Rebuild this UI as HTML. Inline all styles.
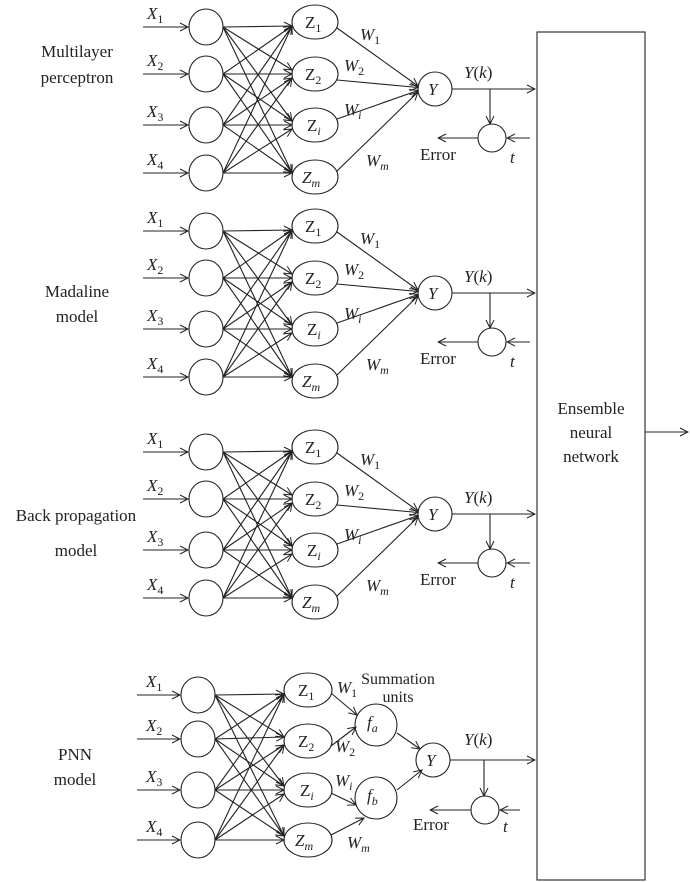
<!DOCTYPE html>
<html><head><meta charset="utf-8"><style>
html,body{margin:0;padding:0;background:#fff;}
svg{display:block;font-family:"Liberation Serif",serif;}
.t{font-size:17px;fill:#222;}
.i{font-style:italic;}
</style></head><body>
<svg id="s" width="690" height="882" viewBox="0 0 690 882" xmlns="http://www.w3.org/2000/svg">
<defs><marker id="a" markerWidth="10" markerHeight="10" refX="9" refY="5" orient="auto" markerUnits="userSpaceOnUse"><path d="M1,1 L9,5 L1,9" fill="none" stroke="#222" stroke-width="1"/></marker></defs>
<g id="g" stroke="#222" stroke-width="1.1" fill="none"></g>
<rect x="537" y="32" width="108" height="848" fill="none" stroke="#222" stroke-width="1.1"/>
<line x1="645" y1="432" x2="688" y2="432" stroke="#222" stroke-width="1.1" marker-end="url(#a)"/>
<g class="t" text-anchor="middle">
<text x="591" y="414">Ensemble</text><text x="591" y="438">neural</text><text x="591" y="462">network</text>
<text x="77" y="57">Multilayer</text><text x="77" y="83">perceptron</text>
<text x="77" y="297">Madaline</text><text x="77" y="322">model</text>
<text x="76" y="521">Back propagation</text><text x="76" y="556">model</text>
<text x="75" y="760">PNN</text><text x="75" y="785">model</text>
<text x="398" y="684" font-size="16">Summation</text><text x="398" y="702" font-size="16">units</text>
</g>
<g id="txt" class="t"></g>
</svg>
<script>
var g=document.getElementById('g'),T=document.getElementById('txt'),NS='http://www.w3.org/2000/svg';
function el(n,a,p){var e=document.createElementNS(NS,n);for(var k in a)e.setAttribute(k,a[k]);(p||g).appendChild(e);return e;}
function ln(x1,y1,x2,y2,ar){var e=el('line',{x1:x1,y1:y1,x2:x2,y2:y2});if(ar)e.setAttribute('marker-end','url(#a)');}
function ce(x,y,rx,ry){el('ellipse',{cx:x,cy:y,rx:rx,ry:ry});}
function tx(x,y,h){var e=el('text',{x:x,y:y},T);e.innerHTML=h;}
var S='font-size="12"';
function block(o){
 var iy=[27,74,125,173].map(v=>v+o), zy=[22,74,125,177].map(v=>v+o), Yy=89+o;
 var ix=206,zx=315,Yx=435;
 iy.forEach((y,k)=>{ce(ix,y,17,18);ln(143,y,188,y,1);});
 zy.forEach(y=>ce(zx,y,23,17));
 iy.forEach(y=>zy.forEach(z=>ln(ix+17,y,zx-23,z+(z<y?4:z>y?-4:0),1)));
 ce(Yx,Yy,17,17);
 zy.forEach(z=>ln(zx+22,z+(z<Yy?6:-6),Yx-17,Yy+(z<Yy?-3:3)*(Math.abs(z-Yy)>40?1:0.5),1));
 ln(452,Yy,535,Yy,1);ln(490,Yy,490,Yy+35,1);ce(492,Yy+49,14,14);
 ln(478,Yy+49,438,Yy+49,1);ln(530,Yy+49,507,Yy+49,1);
 [0,1,2,3].forEach(k=>tx(147,iy[k]-8,'<tspan class="i">X</tspan><tspan '+S+' dy="4">'+(k+1)+'</tspan>'));
 tx(305,zy[0]+6,'Z<tspan '+S+' dy="4">1</tspan>');tx(305,zy[1]+6,'Z<tspan '+S+' dy="4">2</tspan>');
 tx(307,zy[2]+6,'Z<tspan '+S+' dy="4" class="i">i</tspan>');tx(302,zy[3]+6,'<tspan class="i">Z</tspan><tspan '+S+' dy="4" class="i">m</tspan>');
 tx(428,Yy+6,'<tspan class="i">Y</tspan>');
 tx(360,o+40,'<tspan class="i">W</tspan><tspan '+S+' dy="4">1</tspan>');
 tx(344,o+71,'<tspan class="i">W</tspan><tspan '+S+' dy="4">2</tspan>');
 tx(344,o+115,'<tspan class="i">W</tspan><tspan '+S+' dy="4" class="i">i</tspan>');
 tx(366,o+166,'<tspan class="i">W</tspan><tspan '+S+' dy="4" class="i">m</tspan>');
 tx(464,Yy-11,'<tspan class="i">Y</tspan>(<tspan class="i">k</tspan>)');
 tx(420,Yy+71,'Error');tx(510,Yy+74,'<tspan class="i">t</tspan>');
}
block(0);block(204);block(425);
(function(){
 var iy=[695,739,790,840],zy=[690,741,790,840],ix=198,zx=308;
 iy.forEach(y=>{ce(ix,y,17,18);ln(137,y,180,y,1);});
 zy.forEach(y=>ce(zx,y,24,17));
 iy.forEach(y=>zy.forEach(z=>ln(ix+17,y,zx-24,z+(z<y?4:z>y?-4:0),1)));
 ce(376,725,21,21);ce(376,798,21,21);ce(433,760,17,17);
 ln(331,693,357,715,1);ln(331,746,356,727,1);ln(331,793,356,805,1);ln(331,835,364,818,1);
 ln(397,733,420,749,1);ln(397,790,422,770,1);
 ln(450,760,535,760,1);ln(484,760,484,796,1);ce(485,810,14,14);ln(471,810,430,810,1);ln(520,810,500,810,1);
 [0,1,2,3].forEach(k=>tx(146,iy[k]-8,'<tspan class="i">X</tspan><tspan '+S+' dy="4">'+(k+1)+'</tspan>'));
 tx(298,zy[0]+6,'Z<tspan '+S+' dy="4">1</tspan>');tx(298,zy[1]+6,'Z<tspan '+S+' dy="4">2</tspan>');
 tx(300,zy[2]+6,'Z<tspan '+S+' dy="4" class="i">i</tspan>');tx(295,zy[3]+6,'<tspan class="i">Z</tspan><tspan '+S+' dy="4" class="i">m</tspan>');
 tx(367,728,'<tspan class="i">f</tspan><tspan '+S+' dy="4" class="i">a</tspan>');
 tx(367,801,'<tspan class="i">f</tspan><tspan '+S+' dy="4" class="i">b</tspan>');
 tx(426,766,'<tspan class="i">Y</tspan>');
 tx(337,693,'<tspan class="i">W</tspan><tspan '+S+' dy="4">1</tspan>');
 tx(335,752,'<tspan class="i">W</tspan><tspan '+S+' dy="4">2</tspan>');
 tx(335,786,'<tspan class="i">W</tspan><tspan '+S+' dy="4" class="i">i</tspan>');
 tx(347,848,'<tspan class="i">W</tspan><tspan '+S+' dy="4" class="i">m</tspan>');
 tx(464,745,'<tspan class="i">Y</tspan>(<tspan class="i">k</tspan>)');
 tx(413,830,'Error');tx(503,832,'<tspan class="i">t</tspan>');
})();
</script>
</body></html>
